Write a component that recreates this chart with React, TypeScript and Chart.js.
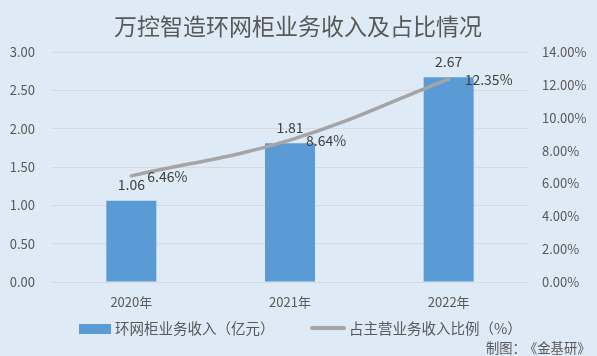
import React, { useEffect, useRef } from "react";
import { Chart, registerables } from "chart.js";
Chart.register(...registerables);

const title = "万控智造环网柜业务收入及占比情况";
const categories = ["2020年", "2021年", "2022年"];
const revenue = [1.06, 1.81, 2.67];
const share = [6.46, 8.64, 12.35];
const revenueLabel = "环网柜业务收入（亿元）";
const shareLabel = "占主营业务收入比例（%）";
const creditLead = "制图：";
const creditSource = "《金基研》";

const FONT = '"Microsoft YaHei", "Noto Sans CJK SC", sans-serif';
const BG = "#deeaf6";
const BAR = "#5b9bd5";
const LINE = "#a5a5a5";
const TICK = "#595959";
const LABEL = "#404040";

const overlay = {
  id: "overlay",
  afterDatasetsDraw(chart: any) {
    const ctx = chart.ctx;
    ctx.save();
    // data labels
    ctx.font = `14px ${FONT}`;
    ctx.fillStyle = LABEL;
    ctx.textBaseline = "middle";
    const barMeta = chart.getDatasetMeta(0);
    barMeta.data.forEach((el: any, i: number) => {
      ctx.textAlign = "center";
      ctx.fillText(revenue[i].toFixed(2), el.x, el.y - 16);
    });
    const lineMeta = chart.getDatasetMeta(1);
    lineMeta.data.forEach((el: any, i: number) => {
      ctx.textAlign = "left";
      ctx.fillText(share[i].toFixed(2) + "%", el.x + 16, el.y + 1);
    });
    // title
    ctx.font = `23px ${FONT}`;
    ctx.fillStyle = TICK;
    ctx.textAlign = "center";
    ctx.fillText(title, 298, 26);
    // legend
    ctx.textAlign = "left";
    ctx.fillStyle = BAR;
    ctx.fillRect(79, 324, 32, 10);
    ctx.font = `14.5px ${FONT}`;
    ctx.fillStyle = TICK;
    ctx.fillText(revenueLabel, 115, 328);
    ctx.strokeStyle = LINE;
    ctx.lineWidth = 4;
    ctx.lineCap = "round";
    ctx.beginPath();
    ctx.moveTo(312, 328);
    ctx.lineTo(344, 328);
    ctx.stroke();
    ctx.fillStyle = TICK;
    ctx.fillText(shareLabel, 349, 328);
    ctx.font = `13.3px ${FONT}`;
    ctx.fillText(creditLead, 486, 348);
    ctx.fillText(creditSource, 524, 348);
    ctx.restore();
  },
};

export default function App() {
  const ref = useRef<HTMLCanvasElement>(null);
  useEffect(() => {
    if (!ref.current) return;
    const chart = new Chart(ref.current, {
      type: "bar",
      data: {
        labels: categories,
        datasets: [
          {
            type: "bar",
            label: revenueLabel,
            data: revenue,
            backgroundColor: BAR,
            yAxisID: "y",
            categoryPercentage: 1,
            barPercentage: 0.315,
            order: 2,
          },
          {
            type: "line",
            label: shareLabel,
            data: share,
            borderColor: LINE,
            borderWidth: 3.5,
            pointRadius: 0,
            tension: 0.4,
            borderCapStyle: "round",
            yAxisID: "y1",
            order: 1,
          } as any,
        ],
      },
      options: {
        responsive: false,
        animation: false,
        layout: { padding: { top: 52, left: 0, right: 0, bottom: 0 } },
        plugins: {
          legend: { display: false },
          title: { display: false },
          tooltip: { enabled: false },
        },
        scales: {
          x: {
            grid: { display: false, drawTicks: false },
            border: { display: true, color: "#d9d9d9", width: 1 },
            ticks: { color: TICK, font: { family: FONT, size: 13 }, padding: 12 },
            afterFit: (s: any) => {
              s.height = 74;
            },
          },
          y: {
            position: "left",
            min: 0,
            max: 3,
            grid: { color: "#d9d9d9", drawTicks: false },
            border: { display: false },
            ticks: {
              stepSize: 0.5,
              color: TICK,
              font: { family: FONT, size: 13 },
              padding: 17,
              callback: (v: any) => Number(v).toFixed(2),
            },
            afterFit: (s: any) => {
              s.width = 52;
            },
          },
          y1: {
            position: "right",
            min: 0,
            max: 14,
            grid: { display: false, drawTicks: false },
            border: { display: false },
            ticks: {
              stepSize: 2,
              color: TICK,
              font: { family: FONT, size: 13 },
              padding: 14,
              callback: (v: any) => Number(v).toFixed(2) + "%",
            },
            afterFit: (s: any) => {
              s.width = 69;
            },
          },
        },
      },
      plugins: [overlay],
    });
    return () => chart.destroy();
  }, []);
  return (
    <div style={{ position: "absolute", left: 0, top: 0, width: 597, height: 356, background: BG }}>
      <canvas ref={ref} width={597} height={356} style={{ display: "block" }} />
    </div>
  );
}
